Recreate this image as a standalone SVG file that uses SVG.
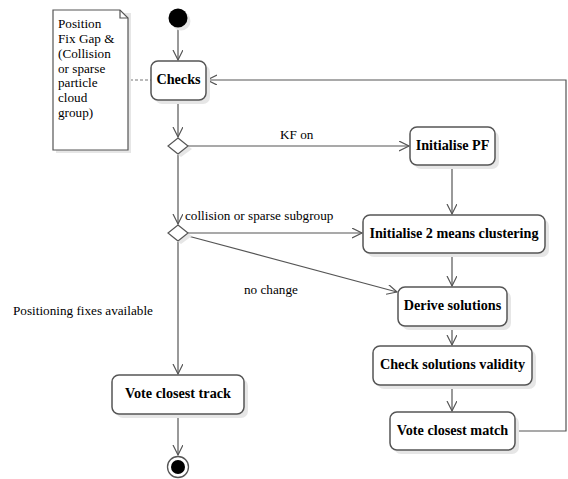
<svg xmlns="http://www.w3.org/2000/svg" width="568" height="479" viewBox="0 0 568 479">
<defs>
<marker id="arr" markerWidth="12" markerHeight="12" refX="10" refY="5" orient="auto" markerUnits="userSpaceOnUse">
<path d="M0,0 L10,5 L0,10" fill="none" stroke="#555" stroke-width="1.2"/>
</marker>
</defs>
<style>
.box{fill:#fff;stroke:#555;stroke-width:1.5}
.sh{fill:#e6e6e6;stroke:none}
text{font-family:'Liberation Serif','Times New Roman',serif}
.bl{font-weight:bold;font-size:14.2px;fill:#000;text-anchor:middle}
.lb{font-size:13.2px;fill:#000}
.ln{fill:none;stroke:#555;stroke-width:1.2}
</style>
<rect width="568" height="479" fill="#fff"/>
<g id="connectors">
<line class="ln" x1="178" y1="28" x2="178" y2="60" marker-end="url(#arr)"/>
<line x1="130" y1="80" x2="151" y2="80" stroke="#777" stroke-width="1.2" stroke-dasharray="3,2"/>
<line class="ln" x1="178" y1="100" x2="178" y2="137" marker-end="url(#arr)"/>
<line class="ln" x1="188" y1="146" x2="409" y2="146" marker-end="url(#arr)"/>
<line class="ln" x1="178" y1="155" x2="178" y2="224" marker-end="url(#arr)"/>
<line class="ln" x1="452" y1="165" x2="452" y2="214" marker-end="url(#arr)"/>
<line class="ln" x1="188" y1="233" x2="362" y2="233" marker-end="url(#arr)"/>
<line class="ln" x1="188" y1="236" x2="397" y2="292" marker-end="url(#arr)"/>
<line class="ln" x1="452" y1="253" x2="452" y2="286" marker-end="url(#arr)"/>
<line class="ln" x1="452" y1="326" x2="452" y2="345" marker-end="url(#arr)"/>
<line class="ln" x1="452" y1="385" x2="452" y2="411" marker-end="url(#arr)"/>
<polyline class="ln" points="515,431 566,431 566,80 207,80" marker-end="url(#arr)"/>
<line class="ln" x1="178" y1="242" x2="178" y2="374" marker-end="url(#arr)"/>
<line class="ln" x1="178" y1="414" x2="178" y2="455" marker-end="url(#arr)"/>
<text class="lb" x="280" y="139">KF on</text>
<text class="lb" x="185" y="220">collision or sparse subgroup</text>
<text class="lb" x="244" y="294">no change</text>
<text class="lb" x="13" y="315">Positioning fixes available</text>
</g>
<g id="start">
<circle cx="181" cy="21" r="9.5" fill="#e6e6e6"/>
<circle cx="178" cy="18" r="9.5" fill="#000"/>
</g>
<g id="note">
<path d="M56,13 H131 V153 H56 Z" class="sh"/>
<path d="M53,10 H120 L128,18 V150 H53 Z" fill="#fff" stroke="#555" stroke-width="1.2"/>
<path d="M120,10 V18 H128" fill="none" stroke="#555" stroke-width="1.2"/>
<text class="lb" font-size="13.5"><tspan x="58" y="28">Position</tspan><tspan x="58" y="43">Fix Gap &amp;</tspan><tspan x="58" y="58">(Collision</tspan><tspan x="58" y="73">or sparse</tspan><tspan x="58" y="87">particle</tspan><tspan x="58" y="102">cloud</tspan><tspan x="58" y="117">group)</tspan></text>
</g>
<g id="checks">
<rect class="sh" x="155" y="65" width="55" height="39" rx="7"/>
<rect class="box" x="151" y="61" width="55" height="39" rx="7"/>
<text class="bl" x="178.5" y="84">Checks</text>
</g>
<g id="decision1">
<path d="M181,141 L192,149 L181,157 L170,149 Z" class="sh"/>
<path d="M178,138 L188,146 L178,154 L168,146 Z" fill="#fff" stroke="#555" stroke-width="1.2"/>
</g>
<g id="decision2">
<path d="M181,228 L192,236 L181,244 L170,236 Z" class="sh"/>
<path d="M178,225 L188,233 L178,241 L168,233 Z" fill="#fff" stroke="#555" stroke-width="1.2"/>
</g>
<g id="initpf">
<rect class="sh" x="414" y="131" width="85" height="38" rx="7"/>
<rect class="box" x="410" y="127" width="85" height="38" rx="7"/>
<text class="bl" x="452.5" y="150">Initialise PF</text>
</g>
<g id="init2means">
<rect class="sh" x="367" y="219" width="182" height="38" rx="7"/>
<rect class="box" x="363" y="215" width="182" height="38" rx="7"/>
<text class="bl" x="454" y="238">Initialise 2 means clustering</text>
</g>
<g id="derive">
<rect class="sh" x="402" y="291" width="109" height="39" rx="7"/>
<rect class="box" x="398" y="287" width="109" height="39" rx="7"/>
<text class="bl" x="452.5" y="310">Derive solutions</text>
</g>
<g id="checkvalidity">
<rect class="sh" x="377" y="350" width="159" height="39" rx="7"/>
<rect class="box" x="373" y="346" width="159" height="39" rx="7"/>
<text class="bl" x="452.5" y="369">Check solutions validity</text>
</g>
<g id="votematch">
<rect class="sh" x="394" y="416" width="125" height="38" rx="7"/>
<rect class="box" x="390" y="412" width="125" height="38" rx="7"/>
<text class="bl" x="452.5" y="435">Vote closest match</text>
</g>
<g id="votetrack">
<rect class="sh" x="116" y="379" width="132" height="39" rx="7"/>
<rect class="box" x="112" y="375" width="132" height="39" rx="7"/>
<text class="bl" x="178" y="398">Vote closest track</text>
</g>
<g id="end">
<circle cx="178" cy="467" r="10.5" fill="#fff" stroke="#555" stroke-width="1.3"/>
<circle cx="178" cy="467" r="7" fill="#000"/>
</g>
</svg>
